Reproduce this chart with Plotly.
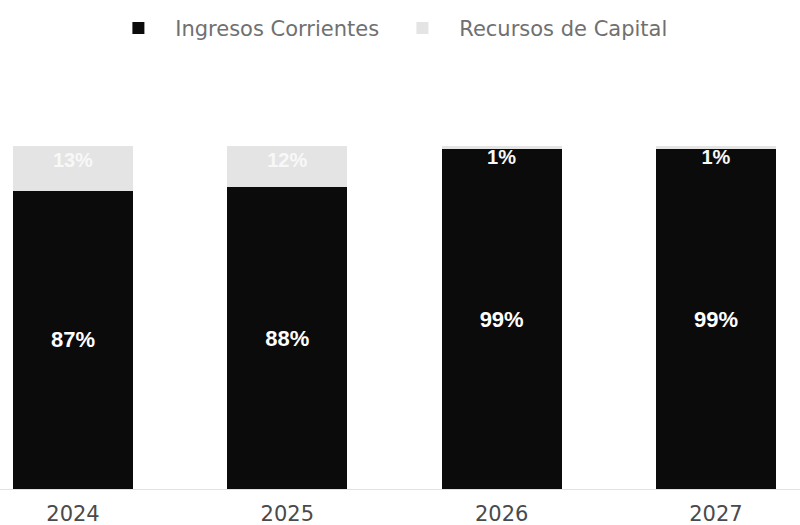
import plotly.graph_objects as go

years = ["2024", "2025", "2026", "2027"]
ingresos_corrientes = [87, 88, 99, 99]
recursos_capital = [13, 12, 1, 1]

xpos = list(range(len(years)))
nb = "\u00a0\u00a0\u2006"

fig = go.Figure()
fig.add_trace(go.Bar(
    x=xpos, y=ingresos_corrientes, name=nb + "Ingresos Corrientes",
    marker=dict(color="#0b0b0b", line=dict(width=0)),
    width=0.56,
    text=[f"{v}%" for v in ingresos_corrientes],
    textposition="inside", insidetextanchor="middle",
    textfont=dict(family="Liberation Sans, Arial", size=22, color="white", weight="bold"),
    constraintext="none",
))
fig.add_trace(go.Bar(
    x=xpos, y=recursos_capital, name=nb + "Recursos de Capital",
    marker=dict(color="#e4e4e4", line=dict(width=0)),
    width=0.56,
    text=[f"{v}%" for v in recursos_capital],
    textposition="inside", insidetextanchor="end",
    textfont=dict(family="Liberation Sans, Arial", size=20, color="#f8f8f8", weight="bold"),
    constraintext="none",
))

fig.update_layout(
    barmode="stack",
    width=800, height=525,
    margin=dict(l=0, r=0, t=146, b=36, autoexpand=False),
    paper_bgcolor="white", plot_bgcolor="white",
    showlegend=True,
    legend=dict(
        orientation="h", x=0.503, xanchor="center", y=1.343, yanchor="middle",
        font=dict(family="DejaVu Sans", size=21, color="#707070"),
        entrywidth=239, entrywidthmode="pixels",
        traceorder="normal",
    ),
    xaxis=dict(
        range=[-0.3406, 3.392],
        automargin=False,
        tickmode="array", tickvals=xpos, ticktext=years,
        showgrid=False, zeroline=False,
        showline=True, linecolor="#e2e2e2", linewidth=1,
        ticks="outside", ticklen=6, tickcolor="rgba(0,0,0,0)",
        tickfont=dict(family="DejaVu Sans", size=21, color="#4a4a4a"),
    ),
    yaxis=dict(range=[0, 100], visible=False, showgrid=False, zeroline=False,
               automargin=False),
)

fig.write_html("out.html", config={"displayModeBar": False},
               post_script="document.body.style.margin='0px';")
